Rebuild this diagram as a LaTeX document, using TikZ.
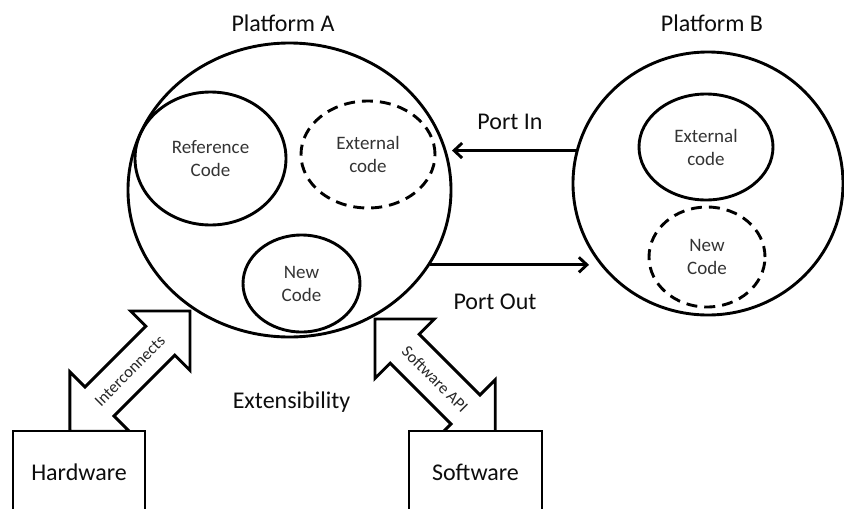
\documentclass[tikz,border=0pt]{standalone}
\usepackage{fontspec}
\setmainfont{Carlito}
\usetikzlibrary{shapes.geometric,arrows.meta}
\begin{document}
\begin{tikzpicture}[x=1pt,y=-1pt,
  outline/.style={line width=2.9pt},
  platform/.style={ellipse,draw,outline,inner sep=0pt},
  part/.style={ellipse,draw,outline,inner sep=0pt,align=center,
    font=\fontsize{19}{23}\selectfont,text=black!80},
  dashedpart/.style={part,dash pattern=on 11pt off 7pt},
  title/.style={font=\fontsize{24}{29}\selectfont,inner sep=0pt,text=black!95},
  unit/.style={draw,outline,fill=white,inner sep=0pt,
    font=\fontsize{24}{29}\selectfont,text=black!95},
  flow/.style={outline,-{Straight Barb[length=8pt,width=15pt]}},
  blockarrow/.style={outline,fill=white,line join=miter},
  tag/.style={font=\fontsize{16.5}{20}\selectfont,inner sep=0pt,text=black!85}
]
\useasboundingbox (0,0) rectangle (844,509);

% Platform A and its parts
\node[platform,minimum width=323pt,minimum height=294pt] (pA) at (289.5,190) {};
\node[part,minimum width=151pt,minimum height=133pt] (refA) at (210.5,158.5) {Reference\\Code};
\node[dashedpart,minimum width=134pt,minimum height=107pt] (extA) at (368,154.5) {External\\code};
\node[part,minimum width=117pt,minimum height=97pt] (newA) at (301.5,283.5) {New\\Code};
\node[title] (titleA) at (283,23) {Platform A};

% Platform B and its parts
\node[platform,minimum width=270pt,minimum height=263pt] (pB) at (708,183.5) {};
\node[part,minimum width=134pt,minimum height=106pt] (extB) at (706,147) {External\\code};
\node[dashedpart,minimum width=116pt,minimum height=100pt] (newB) at (707,257) {New\\Code};
\node[title] (titleB) at (712,23) {Platform B};

% Ports between the platforms
\coordinate (inTip) at (452,0);
\coordinate (outTip) at (589,0);
\draw[flow] (pB.166) -- (pB.166 -| inTip);
\draw[flow] (pA.-28) -- (pA.-28 -| outTip);
\node[title] (portIn) at (510,122) {Port In};
\node[title] (portOut) at (495,302) {Port Out};

% Double block arrows: lower tip at the origin, upper tip at 170pt
\def\blockshape{(0,0) -- (42,42) -- (42,20.5) -- (128,20.5) -- (128,42) -- (170,0)
  -- (128,-42) -- (128,-20.5) -- (42,-20.5) -- (42,-42) -- cycle}
\begin{scope}[shift={(69.8,431.2)},rotate=45]
  \draw[blockarrow] \blockshape;
  \node[tag,rotate=45] (ic) at (85,0) {Interconnects};
\end{scope}
\begin{scope}[shift={(375,319)},rotate=-45]
  \draw[blockarrow] \blockshape;
  \node[tag,rotate=-45] (api) at (85,0) {Software API};
\end{scope}

\node[title] (ext) at (291.5,402) {Extensibility};

% Hardware and software units
\node[unit,minimum width=132pt,minimum height=82pt] (hw) at (79,472) {Hardware};
\node[unit,minimum width=133pt,minimum height=82pt] (sw) at (475.5,472) {Software};
\end{tikzpicture}
\end{document}
